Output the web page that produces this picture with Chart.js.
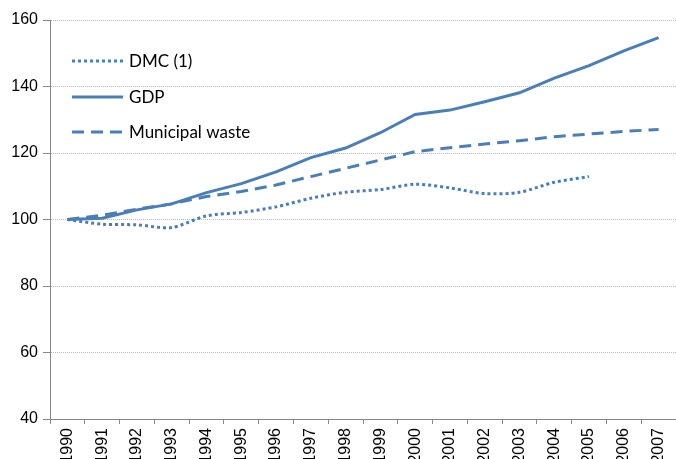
<!DOCTYPE html>
<html>
<head>
<meta charset="utf-8">
<script src="https://cdn.jsdelivr.net/npm/chart.js@4/dist/chart.umd.min.js"></script>
<style>
  html, body { margin: 0; padding: 0; background: #fff; overflow: hidden; }
  #chart { display: block; }
</style>
</head>
<body>
<canvas id="chart" width="676" height="459"></canvas>
<script>
const years = ["1990", "1991", "1992", "1993", "1994", "1995", "1996", "1997", "1998",
  "1999", "2000", "2001", "2002", "2003", "2004", "2005", "2006", "2007"];
const dmc = [100, 98.6, 98.4, 97.6, 101.1, 102.1, 103.8, 106.4, 108.2, 109.0,
  110.6, 109.5, 107.8, 108.2, 111.2, 112.9, null, null];
const gdp = [100, 100.4, 102.9, 104.7, 108.1, 110.8, 114.3, 118.6, 121.5, 126.1,
  131.6, 132.9, 135.4, 138.1, 142.5, 146.3, 150.7, 154.7];
const waste = [100, 101.3, 103.1, 104.7, 106.9, 108.4, 110.4, 112.9, 115.4, 117.9,
  120.4, 121.6, 122.7, 123.7, 124.9, 125.7, 126.5, 127.1];
const seriesNames = ["DMC (1)", "GDP", "Municipal waste"];
const yTicks = [40, 60, 80, 100, 120, 140, 160];

const blue = "#4a7ebb";
const axisGrey = "#868686";

// legend drawn inside the plot, top left, with the line samples
const insideLegend = {
  id: "insideLegend",
  afterDatasetsDraw(chart) {
    const ctx = chart.ctx;
    const rowY = [61, 97, 132];
    chart.data.datasets.forEach((ds, i) => {
      const y = rowY[i];
      ctx.save();
      ctx.strokeStyle = ds.borderColor;
      ctx.lineWidth = ds.borderWidth;
      ctx.setLineDash(ds.borderDash || []);
      ctx.beginPath();
      ctx.moveTo(72, y);
      ctx.lineTo(123, y);
      ctx.stroke();
      ctx.setLineDash([]);
      ctx.fillStyle = "#000";
      ctx.font = "17px Lato";
      ctx.textBaseline = "middle";
      ctx.fillText(ds.label, 129, y + 1);
      ctx.restore();
    });
  }
};

new Chart(document.getElementById("chart"), {
  type: "line",
  data: {
    labels: years,
    datasets: [
      {
        label: seriesNames[0],
        data: dmc,
        borderColor: blue,
        borderWidth: 3,
        borderDash: [3, 3],
        tension: 0.3,
        pointRadius: 0,
        fill: false
      },
      {
        label: seriesNames[1],
        data: gdp,
        borderColor: blue,
        borderWidth: 3,
        tension: 0,
        pointRadius: 0,
        fill: false
      },
      {
        label: seriesNames[2],
        data: waste,
        borderColor: blue,
        borderWidth: 3,
        borderDash: [12, 7],
        tension: 0,
        pointRadius: 0,
        fill: false
      }
    ]
  },
  options: {
    responsive: false,
    animation: false,
    layout: { padding: { top: 20, right: 0, left: 0, bottom: 0 } },
    plugins: {
      legend: { display: false },
      tooltip: { enabled: false }
    },
    scales: {
      x: {
        offset: true,
        grid: {
          offset: true,
          drawOnChartArea: false,
          drawTicks: true,
          tickLength: 5,
          color: axisGrey
        },
        border: { color: axisGrey, width: 1 },
        ticks: {
          minRotation: 90,
          maxRotation: 90,
          padding: 4,
          color: "#000",
          font: { family: "Liberation Sans", size: 16 }
        },
        afterFit(scale) {
          scale.height = 40;
          scale.paddingLeft = 0;
          scale.paddingRight = 0;
        }
      },
      y: {
        min: 40,
        max: 160,
        afterBuildTicks(scale) {
          scale.ticks = yTicks.map(v => ({ value: v }));
        },
        grid: {
          color: "#b8b8b8",
          tickColor: axisGrey,
          tickLength: 7,
          tickBorderDash: []
        },
        border: { color: axisGrey, width: 1, dash: [1, 1] },
        ticks: {
          padding: 5,
          color: "#000",
          font: { family: "Liberation Sans", size: 16 }
        },
        afterFit(scale) {
          scale.width = 50;
        }
      }
    }
  },
  plugins: [insideLegend]
});
</script>
</body>
</html>
